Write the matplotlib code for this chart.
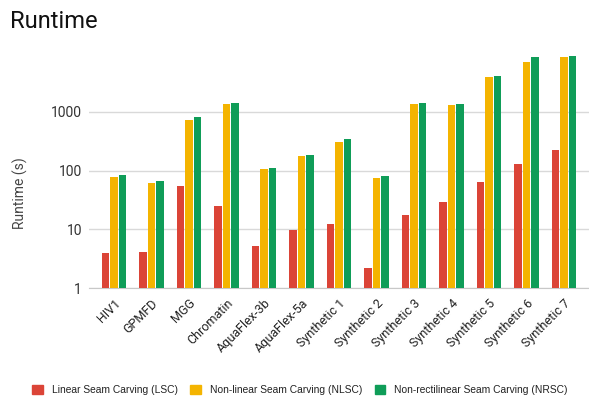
import matplotlib
matplotlib.use("Agg")
import matplotlib.pyplot as plt
import numpy as np
from matplotlib.patches import Patch

categories = ["HIV1", "GPMFD", "MGG", "Chromatin", "AquaFlex-3b", "AquaFlex-5a",
              "Synthetic 1", "Synthetic 2", "Synthetic 3", "Synthetic 4",
              "Synthetic 5", "Synthetic 6", "Synthetic 7"]
lsc = [4.0, 4.2, 55, 25, 5.3, 9.8, 12.4, 2.2, 17.8, 29, 64.5, 129, 223]
nlsc = [77, 62, 720, 1330, 105, 176, 308, 74, 1330, 1280, 3900, 6950, 8450]
nrsc = [83, 67, 820, 1385, 110, 183, 339, 80, 1385, 1330, 3950, 8450, 8790]
series_names = ["Linear Seam Carving (LSC)", "Non-linear Seam Carving (NLSC)",
                "Non-rectilinear Seam Carving (NRSC)"]
colors = ["#DB4437", "#F4B400", "#0F9D58"]

plt.rcParams['font.family'] = ['Roboto', 'DejaVu Sans']

fig = plt.figure(figsize=(5.89, 3.97), dpi=100)
W, H = 589, 397
ax = fig.add_axes([89 / W, 1 - 288.3 / H, 500 / W, (288.3 - 52.7) / H])

x = np.arange(len(categories))
bw = 0.195
off = 0.227
for k, (vals, c) in enumerate(zip([lsc, nlsc, nrsc], colors)):
    ax.bar(x + (k - 1) * off, vals, width=bw, color=c, bottom=0, zorder=3,
           linewidth=0)

ax.set_yscale('log')
ax.set_ylim(1, 10000)
ax.set_xlim(-0.667, 12.667)
ax.set_yticks([1, 10, 100, 1000])
ax.set_yticklabels(["1", "10", "100", "1000"])
ax.minorticks_off()
ax.yaxis.grid(True, color="#d9d9d9", linewidth=1, zorder=0)
ax.tick_params(axis='y', length=0, pad=5, labelsize=10, labelcolor="#333333")
ax.set_xticks(x)
ax.set_xticklabels(categories, rotation=45, ha='right', rotation_mode='anchor',
                   fontsize=9, color="#222222")
ax.tick_params(axis='x', length=0, pad=6)
for s in ["top", "right", "left"]:
    ax.spines[s].set_visible(False)
ax.spines["bottom"].set_color("#c8c8c8")

fig.text(20 / W, 1 - 193 / H, "Runtime (s)", rotation=90, va='center', ha='center',
         fontsize=10, color="#444444")
fig.text(10 / W, 1 - 22 / H, "Runtime", fontsize=17, va='center', ha='left', color="#111111")

handles = [Patch(facecolor=c, edgecolor=c) for c in colors]
leg = fig.legend(handles, series_names, loc='center', bbox_to_anchor=(300 / W, 1 - 390 / H),
                 ncol=3, frameon=False, handlelength=1.05, handleheight=1.05,
                 columnspacing=1.2, handletextpad=0.85,
                 prop={'family': ['Liberation Sans', 'DejaVu Sans'], 'size': 7.4})
for t in leg.get_texts():
    t.set_color("#222222")

fig.savefig("out.png", dpi=100)
